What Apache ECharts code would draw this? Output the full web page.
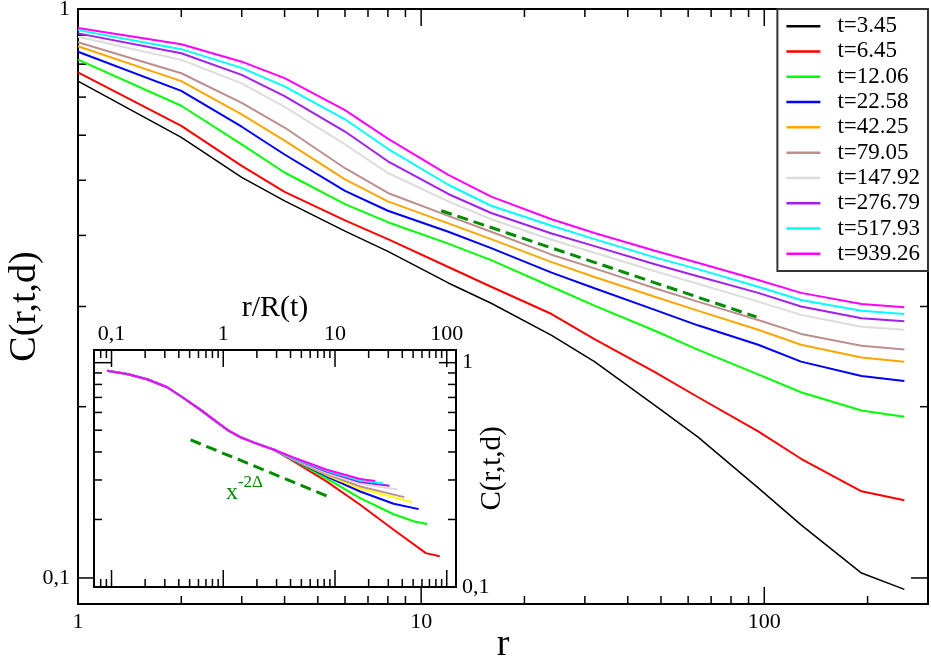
<!DOCTYPE html>
<html>
<head>
<meta charset="utf-8">
<script src="https://cdn.jsdelivr.net/npm/echarts@6/dist/echarts.min.js"></script>
<style>
  html, body { margin: 0; padding: 0; background: #fff; }
  #chart { width: 931px; height: 656px; }
</style>
</head>
<body>
<div id="chart"></div>
<script>
// main plot: C(r,t,d) vs r, one curve per time
var rVals = [1, 2, 3, 4, 6, 8, 12, 16, 24, 32, 48, 64, 96, 128, 192, 256];
var tLabels = ['t=3.45', 't=6.45', 't=12.06', 't=22.58', 't=42.25', 't=79.05', 't=147.92', 't=276.79', 't=517.93', 't=939.26'];
var c_t3_45 = [0.747, 0.595, 0.506, 0.460, 0.407, 0.375, 0.330, 0.304, 0.267, 0.240, 0.201, 0.177, 0.144, 0.124, 0.102, 0.0955];
var c_t6_45 = [0.774, 0.623, 0.530, 0.477, 0.425, 0.394, 0.352, 0.325, 0.291, 0.263, 0.230, 0.208, 0.181, 0.162, 0.142, 0.137];
var c_t12_06 = [0.815, 0.676, 0.578, 0.516, 0.454, 0.422, 0.387, 0.362, 0.325, 0.301, 0.272, 0.252, 0.228, 0.212, 0.197, 0.192];
var c_t22_58 = [0.841, 0.718, 0.621, 0.555, 0.479, 0.442, 0.406, 0.380, 0.344, 0.323, 0.296, 0.278, 0.257, 0.240, 0.2265, 0.222];
var c_t42_25 = [0.860, 0.747, 0.653, 0.587, 0.502, 0.459, 0.420, 0.394, 0.359, 0.338, 0.312, 0.295, 0.273, 0.257, 0.244, 0.240];
var c_t79_05 = [0.874, 0.771, 0.684, 0.619, 0.525, 0.475, 0.433, 0.406, 0.370, 0.350, 0.323, 0.306, 0.284, 0.2685, 0.256, 0.252];
var c_t147_92 = [0.894, 0.814, 0.740, 0.673, 0.578, 0.515, 0.459, 0.427, 0.393, 0.373, 0.346, 0.329, 0.306, 0.290, 0.2765, 0.273];
var c_t276_79 = [0.906, 0.836, 0.766, 0.703, 0.609, 0.540, 0.473, 0.438, 0.403, 0.383, 0.356, 0.339, 0.317, 0.300, 0.286, 0.2825];
var c_t517_93 = [0.918, 0.850, 0.788, 0.731, 0.640, 0.568, 0.491, 0.451, 0.416, 0.394, 0.366, 0.349, 0.325, 0.308, 0.295, 0.291];
var c_t939_26 = [0.926, 0.867, 0.808, 0.756, 0.664, 0.592, 0.511, 0.468, 0.427, 0.404, 0.376, 0.358, 0.334, 0.317, 0.303, 0.299];
var slopeMain = [[11.45, 0.442], [94.9, 0.2876]];

// inset: collapse vs r/R(t); shared head, then each curve fans out
var insetHead = [[0.0912, 0.921], [0.138, 0.891], [0.208, 0.844], [0.315, 0.777], [0.444, 0.694], [0.627, 0.616], [0.825, 0.556], [1.086, 0.502], [1.432, 0.465], [1.885, 0.440], [2.85, 0.409]];
var insetRed = [[4.24, 0.364], [8.46, 0.295], [16.8, 0.2325], [33.5, 0.180], [65, 0.1416], [86.5, 0.137]];
var insetGreen = [[4.24, 0.3675], [8.46, 0.3045], [16.8, 0.249], [33.5, 0.211], [51.4, 0.196], [66.7, 0.191]];
var insetBlue = [[4.24, 0.369], [8.46, 0.311], [16.8, 0.2666], [33.5, 0.235], [56.1, 0.2224]];
var insetYellow = [[4.24, 0.370], [8.46, 0.315], [16.8, 0.274], [33.5, 0.2515], [48.9, 0.239]];
var insetBrown = [[4.24, 0.371], [8.46, 0.318], [16.8, 0.2805], [41.7, 0.2515]];
var insetGray = [[4.24, 0.3725], [8.46, 0.322], [16.8, 0.288], [35.9, 0.273]];
var insetPurple = [[4.24, 0.374], [8.46, 0.326], [16.8, 0.294], [30.8, 0.2825]];
var insetCyan = [[4.24, 0.375], [8.46, 0.330], [16.8, 0.298], [26.9, 0.290]];
var insetMagenta = [[4.24, 0.378], [8.46, 0.333], [16.8, 0.303], [22.9, 0.297]];
var slopeInset = [[0.51, 0.453], [8.74, 0.253]];

// tick values
var mainXMajor = [10, 100];
var mainXMinor = [2, 3, 4, 5, 6, 7, 8, 9, 20, 30, 40, 50, 60, 70, 80, 90, 200];
var mainYMajor = [0.1];
var mainYMinor = [0.2, 0.3, 0.4, 0.5, 0.6, 0.7, 0.8, 0.9];
var insetXMajor = [0.1, 1, 10, 100];
var insetXMinor = [0.07, 0.08, 0.09, 0.2, 0.3, 0.4, 0.5, 0.6, 0.7, 0.8, 0.9, 2, 3, 4, 5, 6, 7, 8, 9, 20, 30, 40, 50, 60, 70, 80, 90];
var insetYMajor = [1];
var insetYMinor = [0.2, 0.3, 0.4, 0.5, 0.6, 0.7, 0.8, 0.9];

var mainCurves = [c_t3_45, c_t6_45, c_t12_06, c_t22_58, c_t42_25, c_t79_05, c_t147_92, c_t276_79, c_t517_93, c_t939_26];
var mainColors = ['#000000', '#ff0000', '#00ff00', '#0000ff', '#ffa500', '#bc8f8f', '#dcdcdc', '#a020f0', '#00ffff', '#ff00ff'];
var insetTails = [insetRed, insetGreen, insetBlue, insetYellow, insetBrown, insetGray, insetPurple, insetCyan, insetMagenta];
var insetColors = ['#ff0000', '#00ff00', '#0000ff', '#ffff00', '#bc8f8f', '#dcdcdc', '#a020f0', '#00ffff', '#ff00ff'];

var FONT = '"Liberation Serif", serif';
var DASH = '#008b00';
var mainXR = [1, 300], mainYR = [0.09, 1];
var insXR = [0.0697, 121], insYR = [0.1, 1.139];

// labels only at decades, comma decimal like the original
function decadeLabel(v) {
  var l = Math.log10(v);
  var e = Math.round(l);
  if (Math.abs(l - e) > 1e-6) return '';
  if (e >= 0) return String(Math.pow(10, e));
  return '0,' + '0'.repeat(-e - 1) + '1';
}

// inward ticks on all four sides of a grid
function tickSeries(xi, yi, xMaj, xMin, yMaj, yMin, xr, yr) {
  var ticks = [];
  xMaj.forEach(function (v) { ticks.push({ a: 'x', v: v, len: 17 }); });
  xMin.forEach(function (v) { ticks.push({ a: 'x', v: v, len: 8 }); });
  yMaj.forEach(function (v) { ticks.push({ a: 'y', v: v, len: 17 }); });
  yMin.forEach(function (v) { ticks.push({ a: 'y', v: v, len: 8 }); });
  return {
    type: 'custom',
    xAxisIndex: xi,
    yAxisIndex: yi,
    silent: true,
    z: 3,
    data: ticks.map(function (t) { return t.a === 'x' ? [t.v, yr[0]] : [xr[0], t.v]; }),
    renderItem: function (params, api) {
      var t = ticks[params.dataIndex];
      var st = { stroke: '#000', lineWidth: 1.5 };
      var p, q;
      if (t.a === 'x') {
        p = api.coord([t.v, yr[0]]);
        q = api.coord([t.v, yr[1]]);
        return { type: 'group', children: [
          { type: 'line', shape: { x1: p[0], y1: p[1], x2: p[0], y2: p[1] - t.len }, style: st },
          { type: 'line', shape: { x1: q[0], y1: q[1], x2: q[0], y2: q[1] + t.len }, style: st }
        ] };
      }
      p = api.coord([xr[0], t.v]);
      q = api.coord([xr[1], t.v]);
      return { type: 'group', children: [
        { type: 'line', shape: { x1: p[0], y1: p[1], x2: p[0] + t.len, y2: p[1] }, style: st },
        { type: 'line', shape: { x1: q[0], y1: q[1], x2: q[0] - t.len, y2: q[1] }, style: st }
      ] };
    }
  };
}

var series = [];
mainCurves.forEach(function (ys, i) {
  series.push({
    name: tLabels[i],
    type: 'line',
    xAxisIndex: 0,
    yAxisIndex: 0,
    symbol: 'none',
    color: mainColors[i],
    lineStyle: { width: i === 0 ? 1.5 : 2, color: mainColors[i] },
    data: rVals.map(function (r, j) { return [r, ys[j]]; })
  });
});
series.push({
  name: 'slope',
  type: 'line',
  xAxisIndex: 0,
  yAxisIndex: 0,
  symbol: 'none',
  lineStyle: { width: 3, color: DASH, type: [11, 6] },
  data: slopeMain
});
insetTails.forEach(function (tail, i) {
  series.push({
    name: 'inset' + i,
    type: 'line',
    xAxisIndex: 1,
    yAxisIndex: 1,
    symbol: 'none',
    lineStyle: { width: 2, color: insetColors[i] },
    data: insetHead.concat(tail)
  });
});
series.push({
  name: 'slopeInset',
  type: 'line',
  xAxisIndex: 1,
  yAxisIndex: 1,
  symbol: 'none',
  lineStyle: { width: 3, color: DASH, type: [11, 6] },
  data: slopeInset
});
series.push(tickSeries(0, 0, mainXMajor, mainXMinor, mainYMajor, mainYMinor, mainXR, mainYR));
series.push(tickSeries(1, 1, insetXMajor, insetXMinor, insetYMajor, insetYMinor, insXR, insYR));

var chart = echarts.init(document.getElementById('chart'), null, { renderer: 'canvas' });
var option = {
  animation: false,
  backgroundColor: '#fff',
  textStyle: { fontFamily: FONT },
  grid: [
    { left: 78, top: 9, width: 850, height: 595, outerBoundsMode: 'none', containLabel: false, show: true, borderColor: '#000', borderWidth: 2, backgroundColor: 'transparent' },
    { left: 94, top: 350, width: 362, height: 237, outerBoundsMode: 'none', containLabel: false, show: true, borderColor: '#000', borderWidth: 2, backgroundColor: '#fff' }
  ],
  xAxis: [
    {
      gridIndex: 0, type: 'log', logBase: 10, min: mainXR[0], max: mainXR[1],
      name: 'r', nameLocation: 'middle', nameGap: 22, nameMoveOverlap: false,
      nameTextStyle: { fontFamily: FONT, fontSize: 38, color: '#000' },
      axisLine: { show: false }, axisTick: { show: false }, splitLine: { show: false },
      axisLabel: { formatter: decadeLabel, fontFamily: FONT, fontSize: 22, color: '#000', margin: 7, showMinLabel: true, showMaxLabel: true }
    },
    {
      gridIndex: 1, type: 'log', logBase: 10, min: insXR[0], max: insXR[1], position: 'top',
      name: 'r/R(t)', nameLocation: 'middle', nameGap: 27, nameMoveOverlap: false,
      nameTextStyle: { fontFamily: FONT, fontSize: 30, color: '#000' },
      axisLine: { show: false }, axisTick: { show: false }, splitLine: { show: false },
      axisLabel: { formatter: decadeLabel, fontFamily: FONT, fontSize: 22, color: '#000', margin: 5 }
    }
  ],
  yAxis: [
    {
      gridIndex: 0, type: 'log', logBase: 10, min: mainYR[0], max: mainYR[1],
      name: 'C(r,t,d)', nameLocation: 'middle', nameGap: 34, nameRotate: 90, nameMoveOverlap: false,
      nameTextStyle: { fontFamily: FONT, fontSize: 38, color: '#000' },
      axisLine: { show: false }, axisTick: { show: false }, splitLine: { show: false },
      axisLabel: { formatter: decadeLabel, fontFamily: FONT, fontSize: 22, color: '#000', margin: 8 }
    },
    {
      gridIndex: 1, type: 'log', logBase: 10, min: insYR[0], max: insYR[1], position: 'right',
      name: 'C(r,t,d)', nameLocation: 'middle', nameGap: 22, nameRotate: 90, nameMoveOverlap: false,
      nameTextStyle: { fontFamily: FONT, fontSize: 29, color: '#000' },
      axisLine: { show: false }, axisTick: { show: false }, splitLine: { show: false },
      axisLabel: { formatter: decadeLabel, fontFamily: FONT, fontSize: 22, color: '#000', margin: 6 }
    }
  ],
  legend: {
    data: tLabels,
    orient: 'vertical',
    right: 3,
    top: 9,
    selectedMode: false,
    backgroundColor: '#fff',
    borderColor: '#333',
    borderWidth: 2,
    borderRadius: 0,
    padding: [4.5, 8, 4.5, 9],
    icon: 'rect',
    itemWidth: 34,
    itemHeight: 2.5,
    itemGap: 0,
    textStyle: { fontFamily: FONT, fontSize: 23, lineHeight: 25.3, color: '#000', padding: [0, 0, 0, 12] }
  },
  graphic: [
    { type: 'text', x: 232, y: 492.5, z: 10, style: { text: 'x', font: '24px "Liberation Serif"', fill: DASH, align: 'center', verticalAlign: 'middle' } },
    { type: 'text', x: 250.5, y: 482.5, z: 10, style: { text: '-2Δ', font: '17px "Liberation Serif"', fill: DASH, align: 'center', verticalAlign: 'middle' } }
  ],
  series: series
};
chart.setOption(option);
</script>
</body>
</html>
